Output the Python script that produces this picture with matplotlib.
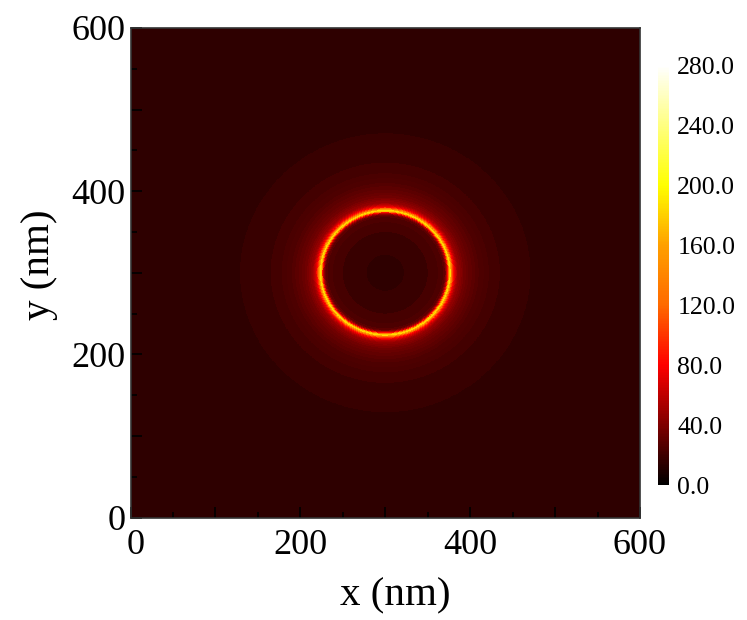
import numpy as np
from matplotlib import pyplot as plt
from matplotlib.colors import LinearSegmentedColormap, Normalize
from matplotlib.transforms import ScaledTranslation

plt.rcParams['font.family'] = ['Liberation Serif', 'DejaVu Serif']

# radial profile of the field (nm from the centre)
radius_edges = [0, 22, 50, 62, 68, 70, 71, 72, 73, 74, 75, 76, 77, 78, 79, 80, 81, 82, 83, 84,
                85, 86, 88, 90, 92, 95, 98, 102, 106, 110, 116, 122, 135, 171, 460]
field_values = [15, 18, 22, 25, 29, 34, 44, 60, 85, 130, 175, 185, 160, 128, 102, 84, 72, 64, 57, 52,
                48, 45, 42, 39, 36, 33, 31, 29, 27, 25, 23, 21, 18, 15]
center = (300, 300)

axis_ticks = [0, 100, 200, 300, 400, 500, 600]
axis_labels = ['0', '', '200', '', '400', '', '600']
minor_ticks = [50, 150, 250, 350, 450, 550]
cbar_ticks = [0, 40, 80, 120, 160, 200, 240, 280]

cmap_levels = [0, 80, 120, 160, 200, 280]
cmap_colors = ['#000000', '#ff0000', '#ff6a00', '#ffa000', '#ffff00', '#ffffff']

cmap = LinearSegmentedColormap.from_list(
    'field', [(v / cmap_levels[-1], c) for v, c in zip(cmap_levels, cmap_colors)], N=256)
norm = Normalize(0, 280)

fig = plt.figure(figsize=(7.47, 6.20), dpi=100)
ax = fig.add_axes([130.5 / 747, 1 - 517.5 / 620, 509.5 / 747, 489.5 / 620])

theta = np.linspace(0, 2 * np.pi, 721)
R, T = np.meshgrid(radius_edges, theta, indexing='ij')
X = center[0] + R * np.cos(T)
Y = center[1] + R * np.sin(T)
C = np.tile(np.array(field_values)[:, None], (1, len(theta) - 1))
mesh = ax.pcolormesh(X, Y, C, cmap=cmap, norm=norm, shading='flat', rasterized=True)

ax.set_xlim(0, 600)
ax.set_ylim(0, 600)
ax.set_xticks(axis_ticks, axis_labels)
ax.set_yticks(axis_ticks, axis_labels)
ax.set_xticks(minor_ticks, minor=True)
ax.set_yticks(minor_ticks, minor=True)
ax.tick_params(which='major', direction='in', length=8, width=1.2, color='black', labelsize=26)
ax.tick_params(which='minor', direction='in', length=4.5, width=1.2, color='black')
ax.tick_params(axis='x', which='major', pad=8)
ax.tick_params(axis='y', which='major', pad=3.5)

# first x label sits a little to the right of its tick
shift = ScaledTranslation(5 / 100, 0, fig.dpi_scale_trans)
first = ax.get_xticklabels()[0]
first.set_transform(first.get_transform() + shift)

ax.set_xlabel('x (nm)', fontsize=29.5, va='center')
ax.set_ylabel('y (nm)', fontsize=29.5, va='center')
ax.xaxis.set_label_coords(0.519, -0.160)
ax.yaxis.set_label_coords(-0.178, 0.516)
for s in ax.spines.values():
    s.set_linewidth(1.2)
    s.set_color('#333333')

cax = fig.add_axes([657.5 / 747, 1 - 485 / 620, 11.5 / 747, 420 / 620])
cbar = fig.colorbar(mesh, cax=cax, ticks=cbar_ticks, format='%.1f')
cbar.outline.set_visible(False)
cbar.ax.tick_params(length=0, labelsize=18.5, pad=6)

fig.savefig('out.png', dpi=100)
